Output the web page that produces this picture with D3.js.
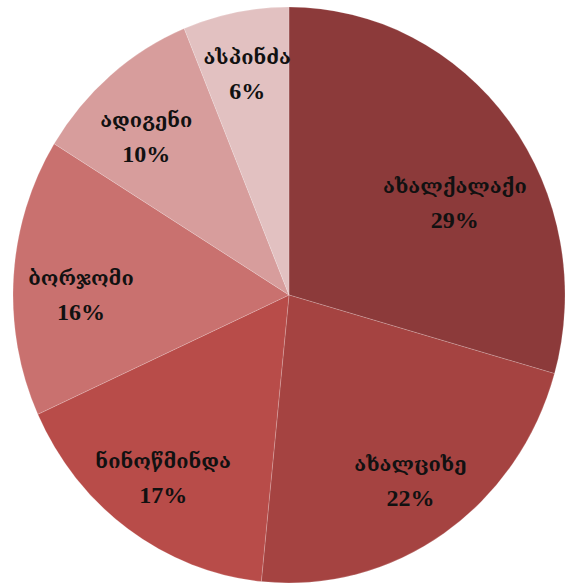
<!DOCTYPE html>
<html>
<head>
<meta charset="utf-8">
<script src="https://cdn.jsdelivr.net/npm/d3@7"></script>
<style>
  html, body { margin: 0; padding: 0; background: #ffffff; }
  svg { display: block; }
  .lbl { font-family: "Liberation Serif", "DejaVu Serif", serif; fill: #111; }
</style>
</head>
<body>
<svg id="chart" width="565" height="587"></svg>
<script>
// Data
const categories = ["ახალქალაქი", "ახალციხე", "ნინოწმინდა", "ბორჯომი", "ადიგენი", "ასპინძა"];
const values = [29.4, 22.2, 16.6, 15.6, 10.0, 6.2];
const colors = ["#8C3A3A", "#A54341", "#B84C49", "#C9716F", "#D79D9C", "#E2C1C1"];

const width = 565, height = 587;
const cx = 289, cy = 295;
const R = 276;
const yStretch = 288 / 276;

const svg = d3.select("#chart");

const pie = d3.pie().sort(null).value(d => d.value);
const data = categories.map((c, i) => ({ name: c, value: values[i], color: colors[i] }));
const arcs = pie(data);
const total = d3.sum(values);

const arc = d3.arc().innerRadius(0).outerRadius(R);

const g = svg.append("g").attr("transform", `translate(${cx},${cy}) scale(1,${yStretch})`);
g.selectAll("path")
  .data(arcs)
  .enter().append("path")
  .attr("d", arc)
  .attr("fill", d => d.data.color)
  .attr("stroke", "rgba(255,255,255,0.22)")
  .attr("stroke-width", 0.8);

// Labels on a label ring, with small best-fit shifts like the original
const deg = Math.PI / 180;
const labelR = 216;
const labelShift = {
  "ახალქალაქი": { angle: 9 * deg, r: 188 },
  "ბორჯომი": { angle: -3.5 * deg, r: 208 },
  "ადიგენი": { angle: -3 * deg, r: 208 }
};
const nameSize = 20;
const pctSize = 24;
const lineGap = 34;

const lg = svg.append("g");
arcs.forEach(d => {
  const s = labelShift[d.data.name];
  const a = (d.startAngle + d.endAngle) / 2 + (s ? s.angle : 0);
  const r = s ? s.r : labelR;
  const x = cx + r * Math.sin(a);
  const y = cy - r * Math.cos(a) * yStretch;
  lg.append("text").attr("class", "lbl")
    .attr("x", x).attr("y", y - lineGap / 2)
    .attr("text-anchor", "middle").attr("dominant-baseline", "central")
    .attr("font-size", nameSize)
    .attr("font-weight", "bold")
    .attr("textLength", null)
    .text(d.data.name);
  lg.append("text").attr("class", "lbl")
    .attr("x", x).attr("y", y + lineGap / 2)
    .attr("text-anchor", "middle").attr("dominant-baseline", "central")
    .attr("font-size", pctSize)
    .attr("font-weight", "bold")
    .text(Math.round(d.data.value / total * 100) + "%");
});
</script>
</body>
</html>
